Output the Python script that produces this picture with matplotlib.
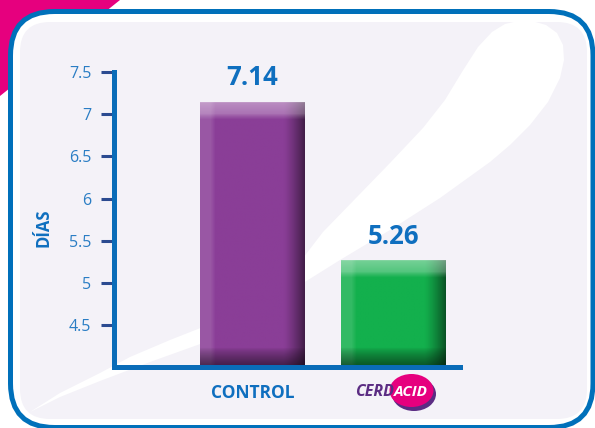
import numpy as np
import matplotlib
matplotlib.use("Agg")
import matplotlib.pyplot as plt
from matplotlib.patches import FancyBboxPatch, Polygon, Ellipse
from matplotlib.colors import to_rgb

plt.rcParams['font.family'] = ['Open Sans', 'DejaVu Sans']

# data
categories = ["CONTROL", "CERDACID"]
dias = [7.14, 5.26]
yticks = [4.5, 5, 5.5, 6, 6.5, 7, 7.5]
ytick_labels = ["4.5", "5", "5.5", "6", "6.5", "7", "7.5"]
bar_colors = ["#8A3D97", "#12B04C"]
ymin = 4.0

BLUE = "#0F6FBF"
AXIS_BLUE = "#0A6CB8"
TICK_NAVY = "#2B4A90"


def bevel(base, h, w):
    # shaded bar face: light top/left band, dark right/bottom band
    img = np.ones((h, w, 3)) * np.array(to_rgb(base))
    yy, xx = np.mgrid[0:h, 0:w]

    def mix(a, target):
        return img * (1 - a[..., None]) + np.array(target) * a[..., None]

    img = mix(np.clip((15 - xx) / 5, 0, 1) * 0.14, (1, 1, 1))
    img = mix(np.clip((xx - (w - 22)) / 22, 0, 1) ** 1.3 * 0.6, (0, 0, 0))
    top = np.clip((17 - yy) / 6, 0, 1) * (0.22 + 0.22 * np.clip(1 - yy / 17, 0, 1))
    img = mix(top, (1, 1, 1))
    img = mix(np.clip((yy - (h - 20)) / 20, 0, 1) ** 0.8 * 0.6, (0, 0, 0))
    return np.clip(img, 0, 1)


fig = plt.figure(figsize=(5.95, 4.28), dpi=100)

# background decoration in pixel coordinates
bg = fig.add_axes([0, 0, 1, 1])
bg.set_xlim(0, 595)
bg.set_ylim(428, 0)
bg.axis("off")
bg.add_patch(Polygon([(0, 0), (120, 0), (0, 96)], closed=True, fc="#E6007E", ec="none"))
bg.add_patch(FancyBboxPatch((10.5, 11.5), 582.5, 416, boxstyle="round,pad=0,rounding_size=44",
                            fc="white", ec="#0070BA", lw=3.6))
panel = FancyBboxPatch((20, 22), 567, 397, boxstyle="round,pad=0,rounding_size=30",
                       fc="#F4F2F8", ec="none")
bg.add_patch(panel)
swoosh = [(30, 412), (60, 393), (100, 373), (130, 357), (170, 340), (203, 327), (250, 300),
          (300, 262), (323, 232), (357, 197), (390, 163), (423, 128), (445, 100), (462, 72),
          (478, 47), (492, 32), (505, 24), (518, 21), (532, 21), (546, 25), (557, 33),
          (563, 45), (564, 60), (560, 78), (548, 102), (530, 125), (510, 145), (490, 162),
          (465, 180), (440, 198), (415, 214), (390, 230), (365, 245), (340, 260), (300, 285),
          (250, 315), (203, 343), (150, 362), (100, 381), (60, 397)]
sw = Polygon(swoosh, closed=True, fc="white", ec="none")
bg.add_patch(sw)
sw.set_clip_path(panel)
# logo ellipses behind "ACID"
bg.add_patch(Ellipse((414, 394), 44, 34, fc="#5B2C83", ec="none"))
bg.add_patch(Ellipse((411.5, 390.5), 44, 33, fc="#E6007E", ec="none"))

# main chart
ax = fig.add_axes([0.1916, 0.1425, 0.5815, 0.6886])
ax.set_facecolor("none")
x = np.arange(len(categories))
width = 0.74
ax.set_xlim(-0.982, 1.472)
ax.set_ylim(ymin, 7.5)

ax.bar(x, np.array(dias) - ymin, width, bottom=ymin, color=bar_colors, alpha=0.9, zorder=2)
for i, v in enumerate(dias):
    y0 = ax.transData.transform((0, ymin))[1]
    y1 = ax.transData.transform((0, v))[1]
    x0 = ax.transData.transform((i - width / 2, 0))[0]
    x1 = ax.transData.transform((i + width / 2, 0))[0]
    img = bevel(bar_colors[i], int(round(y1 - y0)), int(round(x1 - x0)))
    ax.imshow(img, extent=(i - width / 2, i + width / 2, ymin, v), aspect="auto",
              interpolation="bilinear", alpha=0.93, zorder=2.1)
    ax.annotate(f"{v:.2f}", xy=(i, v), xytext=(0, 8), textcoords="offset points",
                ha="center", va="bottom", fontsize=18.5, fontweight="bold", color=BLUE)
ax.set_xlim(-0.982, 1.472)
ax.set_ylim(ymin, 7.5)

for s in ["top", "right"]:
    ax.spines[s].set_visible(False)
for s in ["left", "bottom"]:
    ax.spines[s].set_color(AXIS_BLUE)
    ax.spines[s].set_linewidth(3.6)
    ax.spines[s].set_capstyle("projecting")
    ax.spines[s].set_zorder(3)

ax.set_yticks(yticks)
ax.set_yticklabels(ytick_labels)
ax.tick_params(axis="y", length=9.4, width=2.2, color=TICK_NAVY, pad=7,
               labelsize=11.5, labelcolor="#2A7DC4")
ax.set_xticks(x)
ax.set_xticklabels([])
ax.tick_params(axis="x", length=0)

# category labels
ax.annotate(categories[0], xy=(0, 0), xycoords=("data", "axes fraction"),
            xytext=(0, -19), textcoords="offset points", ha="center", va="center",
            fontsize=12.5, fontweight="bold", color=BLUE, annotation_clip=False)
ax.annotate(categories[1][:4], xy=(1, 0), xycoords=("data", "axes fraction"),
            xytext=(0.5, -18), textcoords="offset points", ha="right", va="center",
            fontsize=11.5, fontweight="bold", fontstyle="italic", color="#5B2C83",
            annotation_clip=False)
ax.annotate(categories[1][4:], xy=(1, 0), xycoords=("data", "axes fraction"),
            xytext=(0, -18), textcoords="offset points", ha="left", va="center",
            fontsize=11, fontweight="bold", fontstyle="italic", color="white",
            annotation_clip=False)

fig.text(43 / 595, 1 - 228 / 428, "DÍAS", rotation=90, ha="center", va="center",
         fontsize=12, fontweight="bold", color=BLUE)

fig.savefig("out.png", dpi=100)
